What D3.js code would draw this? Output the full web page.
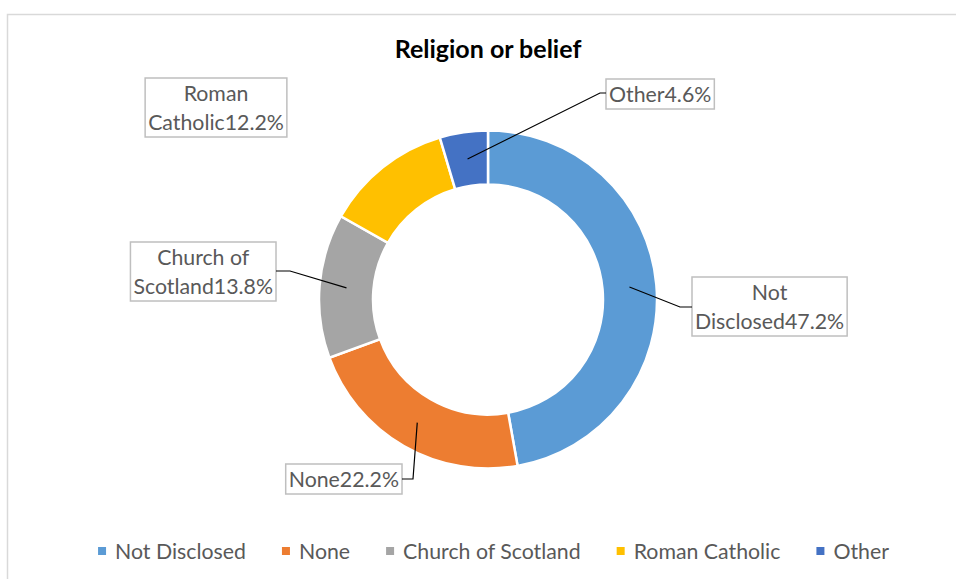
<!DOCTYPE html>
<html>
<head>
<meta charset="utf-8">
<script src="https://cdn.jsdelivr.net/npm/d3@7"></script>
<style>
  body { margin: 0; background: #fff; }
  svg { display: block; font-family: Lato, "Open Sans", sans-serif; }
</style>
</head>
<body>
<svg id="chart" width="956" height="579"></svg>
<script>
// datos del gráfico
const categories = ["Not Disclosed", "None", "Church of Scotland", "Roman Catholic", "Other"];
const values = [47.2, 22.2, 13.8, 12.2, 4.6];
const colors = ["#5B9BD5", "#ED7D31", "#A5A5A5", "#FFC000", "#4472C4"];
// palabras del nombre que van en la primera línea de la etiqueta (0 = una sola línea)
const wrapWords = [1, 0, 2, 1, 0];

const svg = d3.select("#chart");
const width = 956;
const cx = 488, cy = 299.5;
const outerR = 169, innerR = 115;
const fontSize = 21.3;
const textColor = "#595959";

// posiciones de las cajas, relativas al centro del anillo
const labelLayout = [
  { x: 204, y: -22.5, side: "left", elbow: [192, 7.5] },
  { x: -86, y: 164.5, side: "right", elbow: [-75, 179.5] },
  { x: -212, y: -57.5, side: "right", elbow: [-198, -28.5] },
  { x: -272, y: -221.5, side: "center", elbow: null },
  { x: 118, y: -220.5, side: "left", elbow: [112, -206.5] }
];

// marco
svg.append("rect")
  .attr("x", 7.5).attr("y", 14.5)
  .attr("width", width).attr("height", 600)
  .attr("fill", "none")
  .attr("stroke", "#d9d9d9")
  .attr("stroke-width", 1.5);

// título
svg.append("text")
  .attr("x", cx).attr("y", 58)
  .attr("text-anchor", "middle")
  .attr("font-size", 25)
  .attr("font-weight", 700)
  .attr("fill", "#000")
  .text("Religion or belief");

const pie = d3.pie().sort(null).value(d => d.value);
const arc = d3.arc().innerRadius(innerR).outerRadius(outerR);
const data = categories.map((c, i) => ({ name: c, value: values[i], color: colors[i] }));
const arcs = pie(data);

const g = svg.append("g").attr("transform", `translate(${cx},${cy})`);

g.selectAll("path.slice")
  .data(arcs)
  .enter()
  .append("path")
  .attr("class", "slice")
  .attr("d", arc)
  .attr("fill", d => d.data.color)
  .attr("stroke", "#fff")
  .attr("stroke-width", 2.5);

// etiquetas con cajas y líneas guía
arcs.forEach((a, i) => {
  const words = a.data.name.split(" ");
  const valueTxt = a.data.value.toFixed(1) + "%";
  let lines;
  if (wrapWords[i] > 0) {
    lines = [words.slice(0, wrapWords[i]).join(" "), words.slice(wrapWords[i]).join(" ") + valueTxt];
  } else {
    lines = [a.data.name + valueTxt];
  }
  const lay = labelLayout[i];
  const lineH = 29;
  const boxH = lines.length * lineH + 1;

  const lg = g.append("g");
  const txt = lg.append("text")
    .attr("text-anchor", "middle")
    .attr("font-size", fontSize)
    .attr("fill", textColor);
  txt.selectAll("tspan")
    .data(lines)
    .enter()
    .append("tspan")
    .attr("x", 0)
    .attr("y", (d, k) => 23 + k * lineH)
    .text(d => d);

  const tw = d3.max(txt.selectAll("tspan").nodes(), n => n.getComputedTextLength());
  const boxW = tw + 6;
  let left;
  if (lay.side === "left") left = lay.x;
  else if (lay.side === "right") left = lay.x - boxW;
  else left = lay.x - boxW / 2;

  lg.insert("rect", "text")
    .attr("x", 0).attr("y", 0)
    .attr("width", boxW).attr("height", boxH)
    .attr("fill", "#fff")
    .attr("stroke", "#bfbfbf")
    .attr("stroke-width", 1.5);
  txt.selectAll("tspan").attr("x", boxW / 2);
  lg.attr("transform", `translate(${left},${lay.y})`);

  if (lay.elbow) {
    const c = d3.arc().innerRadius(innerR).outerRadius(outerR).centroid(a);
    const endX = lay.side === "left" ? left : left + boxW;
    g.append("polyline")
      .attr("points", [c, lay.elbow, [endX, lay.elbow[1]]].map(p => p.join(",")).join(" "))
      .attr("fill", "none")
      .attr("stroke", "#000")
      .attr("stroke-width", 1.2);
  }
});

// leyenda
const legend = svg.append("g").attr("class", "legend");
const items = legend.selectAll("g.item")
  .data(data)
  .enter()
  .append("g")
  .attr("class", "item");
items.append("rect")
  .attr("width", 8).attr("height", 8)
  .attr("y", 547)
  .attr("fill", d => d.color);
items.append("text")
  .attr("x", 17).attr("y", 559)
  .attr("font-size", fontSize)
  .attr("fill", textColor)
  .text(d => d.name);

let xPos = 0;
items.each(function () {
  const w = d3.select(this).select("text").node().getComputedTextLength();
  d3.select(this).attr("transform", `translate(${xPos},0)`);
  xPos += 17 + w + 36;
});
const legendW = xPos - 36;
legend.attr("transform", `translate(${493.5 - legendW / 2},0)`);
</script>
</body>
</html>
